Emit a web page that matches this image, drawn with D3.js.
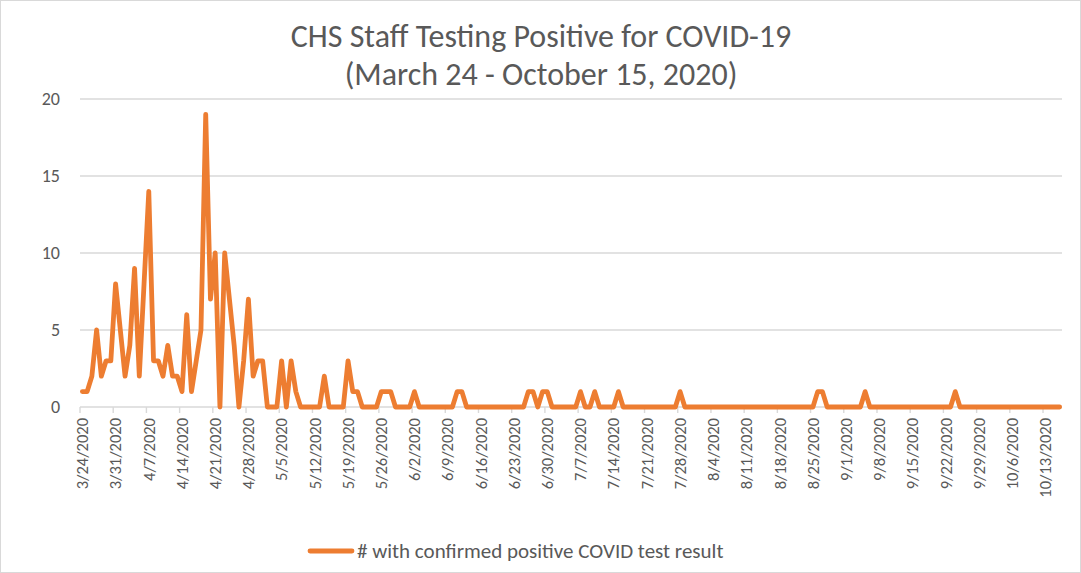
<!DOCTYPE html>
<html>
<head>
<meta charset="utf-8">
<script src="https://cdn.jsdelivr.net/npm/d3@7"></script>
<style>
  html, body { margin: 0; padding: 0; background: #fff; }
  svg { display: block; }
  text { font-family: Carlito, Lato, "Liberation Sans", sans-serif; fill: #595959; }
</style>
</head>
<body>
<script>
// ---- data ----
const titleLines = ["CHS Staff Testing Positive for COVID-19", "(March 24 - October 15, 2020)"];
const seriesName = "# with confirmed positive COVID test result";
const startDate = "2020-03-24";
// daily counts, one row per week starting 3/24/2020
const values = [
  1,1,2,5,2,3,3,
  8,5,2,4,9,2,8,
  14,3,3,2,4,2,2,
  1,6,1,3,5,19,7,
  10,0,10,7,4,0,3,
  7,2,3,3,0,0,0,
  3,0,3,1,0,0,0,
  0,0,2,0,0,0,0,
  3,1,1,0,0,0,0,
  1,1,1,0,0,0,0,
  1,0,0,0,0,0,0,
  0,0,1,1,0,0,0,
  0,0,0,0,0,0,0,
  0,0,0,1,1,0,1,
  1,0,0,0,0,0,0,
  1,0,0,1,0,0,0,
  0,1,0,0,0,0,0,
  0,0,0,0,0,0,0,
  1,0,0,0,0,0,0,
  0,0,0,0,0,0,0,
  0,0,0,0,0,0,0,
  0,0,0,0,0,0,0,
  0,1,1,0,0,0,0,
  0,0,0,0,1,0,0,
  0,0,0,0,0,0,0,
  0,0,0,0,0,0,0,
  0,0,1,0,0,0,0,
  0,0,0,0,0,0,0,
  0,0,0,0,0,0,0,
  0,0,0,0
];
const tickLabels = ["3/24/2020","3/31/2020","4/7/2020","4/14/2020","4/21/2020","4/28/2020","5/5/2020",
  "5/12/2020","5/19/2020","5/26/2020","6/2/2020","6/9/2020","6/16/2020","6/23/2020","6/30/2020",
  "7/7/2020","7/14/2020","7/21/2020","7/28/2020","8/4/2020","8/11/2020","8/18/2020","8/25/2020",
  "9/1/2020","9/8/2020","9/15/2020","9/22/2020","9/29/2020","10/6/2020","10/13/2020"];
const yTicks = [0, 5, 10, 15, 20];

// categories: one per day
const fmt = d3.timeFormat("%-m/%-d/%Y");
const start = d3.timeParse("%Y-%m-%d")(startDate);
const categories = values.map((_, i) => fmt(d3.timeDay.offset(start, i)));

// ---- layout ----
const W = 1081, H = 573;
const plot = { left: 80, right: 1062, top: 99, bottom: 407 };
const color = "#ED7D31";
const gridColor = "#d9d9d9";

const svg = d3.select("body").append("svg").attr("width", W).attr("height", H);

svg.append("rect").attr("x", 0.5).attr("y", 0.5).attr("width", W - 1).attr("height", H - 1)
  .attr("fill", "#fff").attr("stroke", gridColor).attr("stroke-width", 1);

const x = d3.scaleBand().domain(categories).range([plot.left, plot.right]).padding(0);
const y = d3.scaleLinear().domain([0, 20]).range([plot.bottom, plot.top]);
const cx = c => x(c) + x.bandwidth() / 2;

// gridlines
svg.append("g").selectAll("line").data(yTicks).join("line")
  .attr("x1", plot.left).attr("x2", plot.right)
  .attr("y1", d => y(d)).attr("y2", d => y(d))
  .attr("stroke", gridColor).attr("stroke-width", 1.4);

// y labels
svg.append("g").selectAll("text").data(yTicks).join("text")
  .attr("x", 60).attr("y", d => y(d)).attr("dy", "0.35em")
  .attr("text-anchor", "end").attr("font-size", 18).text(d => d);

// x tick marks and labels
const xt = svg.append("g");
xt.selectAll("line").data(tickLabels).join("line")
  .attr("x1", d => x(d)).attr("x2", d => x(d))
  .attr("y1", plot.bottom).attr("y2", plot.bottom + 6)
  .attr("stroke", gridColor).attr("stroke-width", 1.4);
xt.selectAll("text").data(tickLabels).join("text")
  .attr("transform", d => `translate(${cx(d)},${plot.bottom + 11}) rotate(-90)`)
  .attr("dy", "0.35em").attr("text-anchor", "end").attr("font-size", 16.5).text(d => d);

// line
const line = d3.line().x((d, i) => cx(categories[i])).y(d => y(d));
svg.append("path").datum(values)
  .attr("fill", "none").attr("stroke", color).attr("stroke-width", 4.8)
  .attr("stroke-linejoin", "round").attr("stroke-linecap", "round")
  .attr("d", line);

// title
svg.append("g").selectAll("text").data(titleLines).join("text")
  .attr("x", 541).attr("y", (d, i) => 36 + i * 38).attr("dy", "0.35em")
  .attr("text-anchor", "middle").attr("font-size", 32).text(d => d);

// legend
svg.append("line").attr("x1", 310).attr("x2", 352).attr("y1", 551).attr("y2", 551)
  .attr("stroke", color).attr("stroke-width", 4.8).attr("stroke-linecap", "round");
svg.append("text").attr("x", 357).attr("y", 551).attr("dy", "0.35em")
  .attr("font-size", 21).text(seriesName);
</script>
</body>
</html>
